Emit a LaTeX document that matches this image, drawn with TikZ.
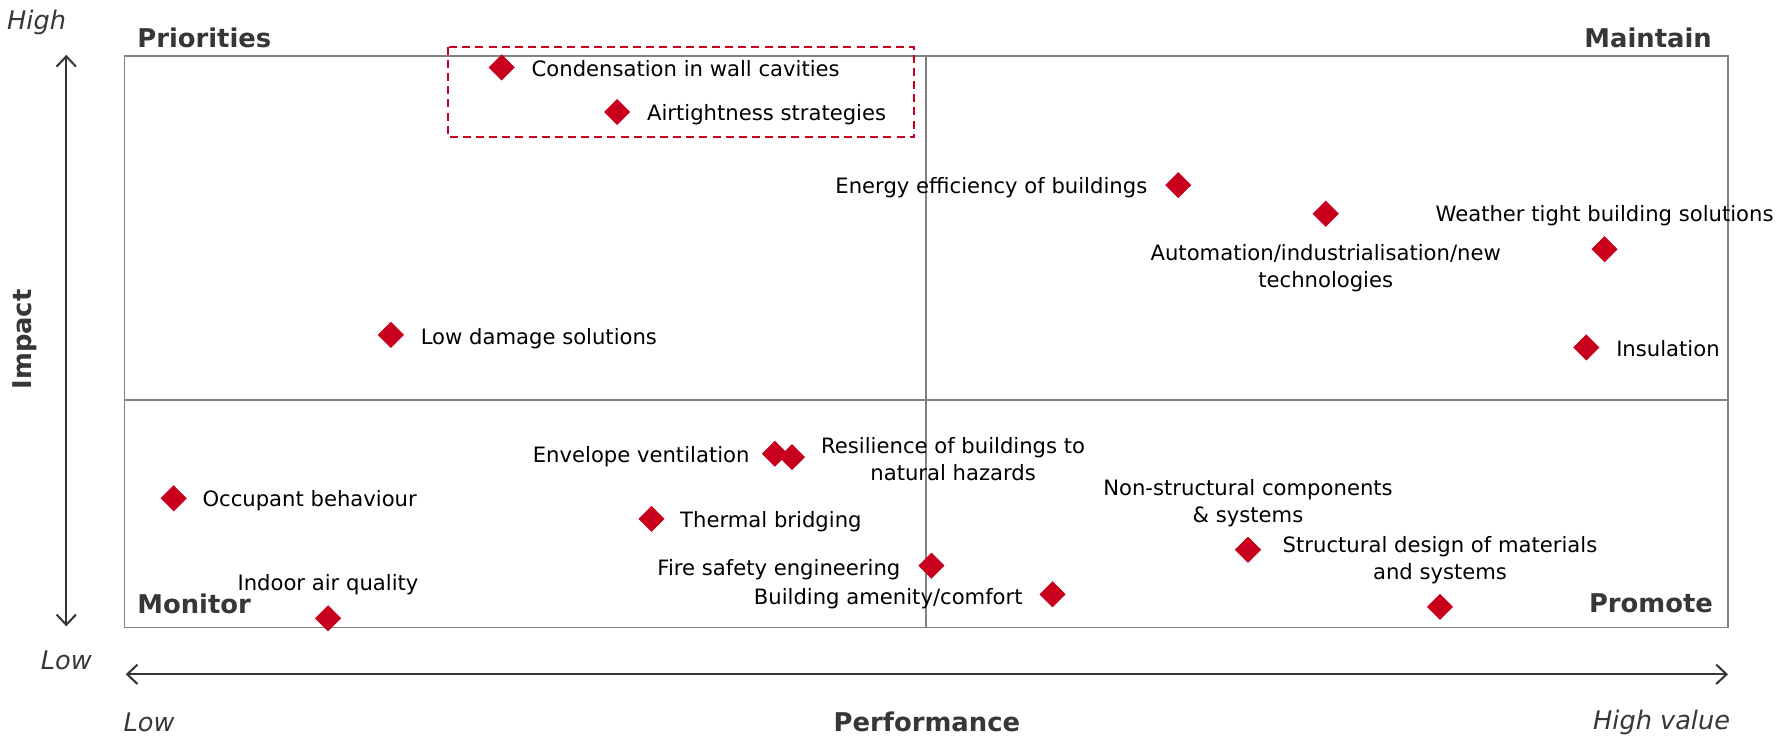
\documentclass[tikz,border=0pt]{standalone}
\usepackage{fontspec}
\setmainfont{DejaVu Sans}
\usetikzlibrary{arrows.meta,shapes.geometric}
\definecolor{mred}{RGB}{200,0,30}
\definecolor{dgray}{RGB}{55,55,55}
\definecolor{bgray}{RGB}{130,130,130}
\begin{document}
\begin{tikzpicture}[x=1pt,y=-1pt,
  item/.style={font=\fontsize{18.5}{23.5}\selectfont, inner sep=0pt, text=black, text height=15pt, text depth=2pt},
  mitem/.style={font=\fontsize{18.5}{23.5}\selectfont, inner sep=0pt, text=black, align=center},
  dia/.style={diamond, fill=mred, minimum size=23pt, inner sep=0pt},
  head/.style={font=\fontsize{22.6}{26}\selectfont\bfseries, text=dgray, inner sep=0pt},
  axl/.style={font=\fontsize{22.4}{26}\selectfont\itshape, text=dgray, inner sep=0pt},
  quad/.style={draw=bgray, line width=1.4pt},
  axis/.style={draw=dgray, line width=1.8pt, {Straight Barb[length=9pt,width=17pt]}-{Straight Barb[length=9pt,width=17pt]}},
  focus/.style={draw=mred, line width=1.6pt, dash pattern=on 7pt off 4.5pt}
]
\useasboundingbox (0,0) rectangle (1568,646);

% quadrant frame
\draw[quad] (109,49) rectangle (1512,549);
\draw[quad] (810,49) -- (810,549);
\draw[quad] (109,350) -- (1512,350);

% axes
\coordinate (vtop) at (58,48);
\coordinate (vbot) at (58,548);
\coordinate (hleft) at (110,590);
\coordinate (hright) at (1512,590);
\draw[axis] (vtop) -- (vbot);
\draw[axis] (hleft) -- (hright);

\node[axl] (high) at (32,20) {High};
\node[axl] (lowv) at (58,578) {Low};
\node[axl, anchor=west] (lowh) at (108,632) {Low};
\node[axl, anchor=east] (highv) at (1514,632) {High value};
\node[head] (perf) at (811,632) {Performance};
\node[head, rotate=90] (impact) at (22,297) {Impact};

% quadrant headings
\node[head, anchor=west] (prio) at (120,33) {Priorities};
\node[head, anchor=east] (maint) at (1498,33) {Maintain};
\node[head, anchor=west] (monit) at (120,528) {Monitor};
\node[head, anchor=east] (promo) at (1499,528) {Promote};

% focus box
\draw[focus] (392,41) rectangle (800,120);

% items
\node[dia] (d1) at (439,59) {};
\node[item, anchor=west] (l1) at (465,60) {Condensation in wall cavities};
\node[dia] (d2) at (540,98) {};
\node[item, anchor=west] (l2) at (566,99) {Airtightness strategies};
\node[dia] (d3) at (1031,162) {};
\node[item, anchor=east] (l3) at (1004,163) {Energy efficiency of buildings};
\node[dia] (d4) at (1160,187) {};
\node[mitem] (l4) at (1160,235) {Automation/industrialisation/new\\technologies};
\node[dia] (d5) at (1404,218) {};
\node[item] (l5) at (1404,187) {Weather tight building solutions};
\node[dia] (d6) at (1388,304) {};
\node[item, anchor=west] (l6) at (1414,305) {Insulation};
\node[dia] (d7) at (342,293) {};
\node[item, anchor=west] (l7) at (368,295) {Low damage solutions};
\node[dia] (d8) at (678,397) {};
\node[item, anchor=east] (l8) at (656,398) {Envelope ventilation};
\node[dia] (d9) at (693,400) {};
\node[mitem] (l9) at (834,401.5) {Resilience of buildings to\\natural hazards};
\node[dia] (d10) at (152,436) {};
\node[item, anchor=west] (l10) at (177,437) {Occupant behaviour};
\node[dia] (d11) at (570,454) {};
\node[item, anchor=west] (l11) at (595,455) {Thermal bridging};
\node[dia] (d12) at (1092,481) {};
\node[mitem] (l12) at (1092,440) {Non-structural components\\\& systems};
\node[dia] (d13) at (1260,531) {};
\node[mitem] (l13) at (1260,490) {Structural design of materials\\and systems};
\node[dia] (d14) at (815,495) {};
\node[item, anchor=east] (l14) at (788,497) {Fire safety engineering};
\node[dia] (d15) at (921,520) {};
\node[item, anchor=east] (l15) at (895,522) {Building amenity/comfort};
\node[dia] (d16) at (287,541) {};
\node[item] (l16) at (287,510) {Indoor air quality};
\end{tikzpicture}
\end{document}
